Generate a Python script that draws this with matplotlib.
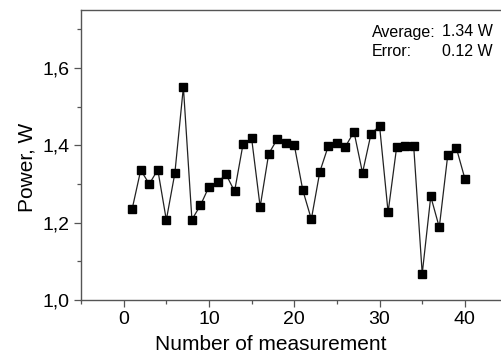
import matplotlib

matplotlib.use("Agg")

import matplotlib.pyplot as plt
from matplotlib.ticker import FuncFormatter, MultipleLocator

plt.rcParams["font.family"] = ["Liberation Sans", "DejaVu Sans"]

measurement = list(range(1, 41))
power = [
    1.236, 1.336, 1.300, 1.337, 1.207, 1.328, 1.551, 1.208, 1.245, 1.293,
    1.304, 1.325, 1.281, 1.404, 1.418, 1.241, 1.378, 1.416, 1.405, 1.401,
    1.284, 1.209, 1.332, 1.399, 1.407, 1.397, 1.435, 1.329, 1.430, 1.450,
    1.227, 1.395, 1.399, 1.398, 1.068, 1.268, 1.188, 1.376, 1.393, 1.314,
]
average_text = "1.34 W"
error_text = "0.12 W"

fig = plt.figure(figsize=(5.02, 3.53), dpi=100)
ax = fig.add_axes([0.1614, 0.150, 0.8496, 0.8217])

ax.plot(measurement, power, color="#222222", lw=0.9,
        marker="s", ms=5.8, mfc="black", mec="black")

ax.set_xlim(-5, 45)
ax.set_ylim(1.0, 1.75)
ax.xaxis.set_major_locator(MultipleLocator(10))
ax.xaxis.set_minor_locator(MultipleLocator(5))
ax.yaxis.set_major_locator(MultipleLocator(0.2))
ax.yaxis.set_minor_locator(MultipleLocator(0.1))
ax.yaxis.set_major_formatter(FuncFormatter(lambda v, _: f"{v:.1f}".replace(".", ",")))

for side in ("left", "bottom", "top", "right"):
    ax.spines[side].set_color("#555555")
    ax.spines[side].set_linewidth(1.0)

ax.tick_params(which="major", direction="out", length=5, width=0.9,
               color="#555555", labelsize=14, pad=3)
ax.tick_params(which="minor", direction="out", length=3, width=0.9,
               color="#555555")

ax.set_xlabel("Number of measurement", fontsize=15)
ax.set_ylabel("Power, W", fontsize=15)
ax.xaxis.set_label_coords(0.4455, -0.121)
ax.yaxis.set_label_coords(-0.1055, 0.457)

fs = 11.5
fig.text(372 / 502, 1 - 32 / 353, "Average:", fontsize=fs, ha="left", va="center")
fig.text(493 / 502, 1 - 32 / 353, average_text, fontsize=fs, ha="right", va="center")
fig.text(372 / 502, 1 - 52 / 353, "Error:", fontsize=fs, ha="left", va="center")
fig.text(493 / 502, 1 - 52 / 353, error_text, fontsize=fs, ha="right", va="center")

fig.savefig("out.png", dpi=100)
